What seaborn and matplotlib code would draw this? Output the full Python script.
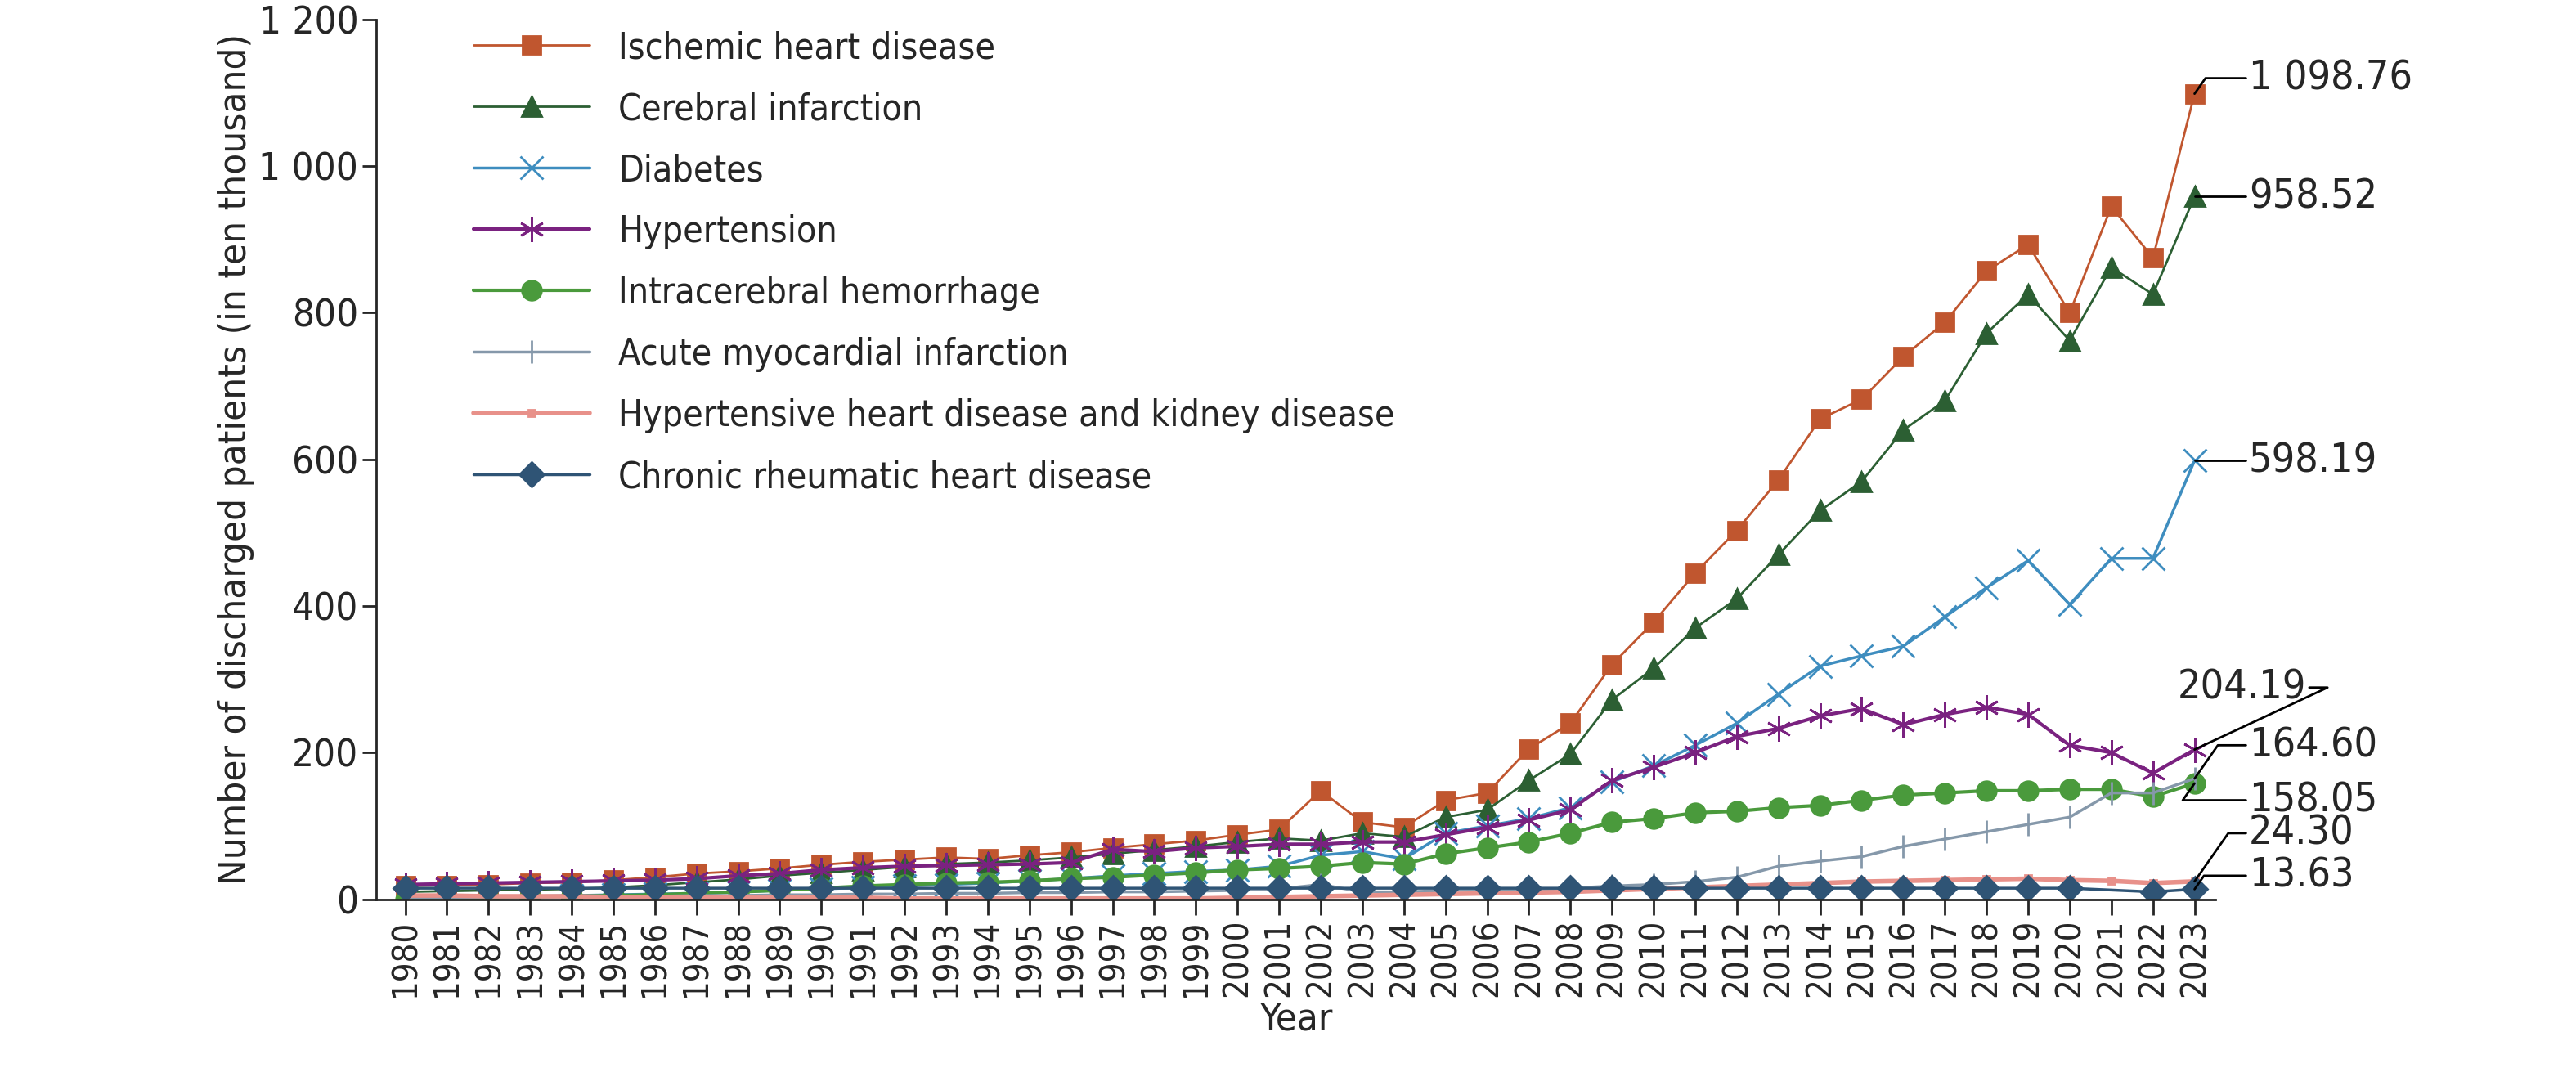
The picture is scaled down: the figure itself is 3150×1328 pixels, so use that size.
import numpy as np
import pandas as pd
import matplotlib
matplotlib.use("Agg")
import matplotlib.pyplot as plt
import seaborn as sns

# 数据（单位：万人）
years = list(range(1980, 2024))
ischemic = [18, 19, 20, 22, 23, 26, 30, 35, 38, 42, 47, 51, 54, 57, 55, 60, 64, 70, 75, 80, 88, 95,
            148, 105, 98, 135, 145, 205, 240, 320, 378, 445, 503, 572, 655, 682, 740, 787, 857, 893,
            800, 945, 875, 1098.76]
cerebral = [10, 11, 12, 13, 14, 16, 19, 23, 27, 32, 36, 40, 44, 48, 50, 53, 57, 62, 67, 72, 78, 83,
            80, 90, 85, 112, 122, 162, 198, 272, 315, 370, 410, 470, 530, 570, 640, 680, 772, 825,
            762, 862, 825, 958.52]
diabetes = [1, 2, 3, 4, 5, 6, 7, 8, 10, 12, 14, 16, 18, 20, 22, 25, 28, 32, 35, 38, 40, 45,
            60, 65, 55, 90, 100, 110, 125, 160, 182, 210, 240, 280, 318, 332, 345, 385, 425, 462,
            402, 465, 465, 598.19]
hypertension = [20, 21, 22, 23, 24, 25, 26, 28, 32, 35, 40, 43, 45, 46, 47, 48, 50, 68, 65, 70, 72, 75,
                75, 78, 78, 88, 98, 108, 122, 162, 180, 200, 222, 233, 250, 260, 238, 252, 262, 252,
                210, 200, 172, 204.19]
ich = [0, 1, 2, 3, 4, 5, 6, 8, 10, 12, 15, 18, 20, 22, 23, 25, 28, 30, 33, 36, 40, 42,
       45, 50, 48, 62, 70, 78, 90, 105, 110, 118, 120, 125, 128, 135, 142, 145, 148, 148,
       150, 150, 140, 158.05]
ami = [2, 2, 3, 3, 3, 4, 4, 5, 5, 6, 6, 7, 7, 8, 8, 9, 9, 10, 10, 11, 12, 14,
       20, 10, 10, 12, 12, 12, 15, 18, 20, 24, 30, 45, 52, 58, 72, 82, 92, 102,
       112, 145, 145, 164.60]
hhd = [5, 5, 4, 4, 4, 3, 3, 3, 2, 2, 2, 2, 1, 1, 1, 1, 1, 1, 1, 1, 2, 3,
       4, 5, 6, 7, 8, 9, 10, 12, 14, 16, 18, 20, 22, 24, 25, 26, 27, 28,
       26, 25, 22, 24.30]
rheumatic = [15] * 41 + [np.nan, 10, 13.63]

series = [
    ("Ischemic heart disease", ischemic, "#C0562F", "s", 16, 2),
    ("Cerebral infarction", cerebral, "#2C5F33", "^", 17, 2),
    ("Diabetes", diabetes, "#3E8DBF", "x", 20, 2.5),
    ("Hypertension", hypertension, "#7A2280", (6, 2, 0), 22, 3),
    ("Intracerebral hemorrhage", ich, "#4A9A3C", "o", 17, 3),
    ("Acute myocardial infarction", ami, "#8598AA", "|", 20, 2.5),
    ("Hypertensive heart disease and kidney disease", hhd, "#E8918A", "s", 6, 4),
    ("Chronic rheumatic heart disease", rheumatic, "#2F5475", "D", 15, 2.5),
]

sns.set_style("ticks")
plt.rcParams["font.family"] = ["DejaVu Sans"]
plt.rcParams["font.stretch"] = "condensed"
plt.rcParams["font.size"] = 29

fig = plt.figure(figsize=(31.5, 13.28), dpi=100)
ax = fig.add_axes([0.146, 0.172, 0.714, 0.81])

for name, vals, col, mk, ms, lw in series:
    df = pd.DataFrame({"Year": years, "v": vals})
    sns.lineplot(data=df, x="Year", y="v", ax=ax, color=col, marker=mk, markersize=ms,
                 linewidth=lw, markeredgecolor=col, markeredgewidth=2, label=name)

ax.set_xlim(1979.3, 2023.5)
ax.set_ylim(0, 1200)
ax.set_xticks(years)
ax.set_xticklabels([str(y) for y in years], rotation=90, fontsize=30)
yt = list(range(0, 1201, 200))
ax.set_yticks(yt)
ax.set_yticklabels([f"{v:,}".replace(",", " ") for v in yt], fontsize=34)
ax.tick_params(axis="x", length=14, width=2, direction="out")
ax.tick_params(axis="y", length=12, width=2)
ax.set_xlabel("Year", fontsize=34)
ax.set_ylabel("Number of discharged patients (in ten thousand)", fontsize=34)
sns.despine(ax=ax)
for s in ["left", "bottom"]:
    ax.spines[s].set_linewidth(2)

ax.legend(loc="upper left", bbox_to_anchor=(0.035, 1.025), frameon=False, fontsize=32,
          labelspacing=0.72, handlelength=3.2)

# 末尾标注
labels = [(1098.76, 1120, "1 098.76"), (958.52, 958.52, "958.52"), (598.19, 598.19, "598.19"),
          (164.60, 210, "164.60"), (158.05, 135, "158.05"),
          (24.30, 90, "24.30"), (13.63, 32, "13.63")]
for yv, ty, txt in labels:
    ax.annotate(txt, xy=(2023, yv), xytext=(2024.3, ty), fontsize=36, ha="left", va="center",
                annotation_clip=False,
                arrowprops=dict(arrowstyle="-", color="black", lw=2, shrinkA=0, shrinkB=0,
                                connectionstyle="angle,angleA=0,angleB=55,rad=0"))
ax.annotate("204.19", xy=(2023, 204.19), xytext=(2022.6, 262), fontsize=36, ha="left",
            va="bottom", annotation_clip=False,
            arrowprops=dict(arrowstyle="-", color="black", lw=2, shrinkA=0, shrinkB=0,
                            connectionstyle="angle,angleA=0,angleB=25,rad=0"))

fig.savefig("out.png", dpi=100)
